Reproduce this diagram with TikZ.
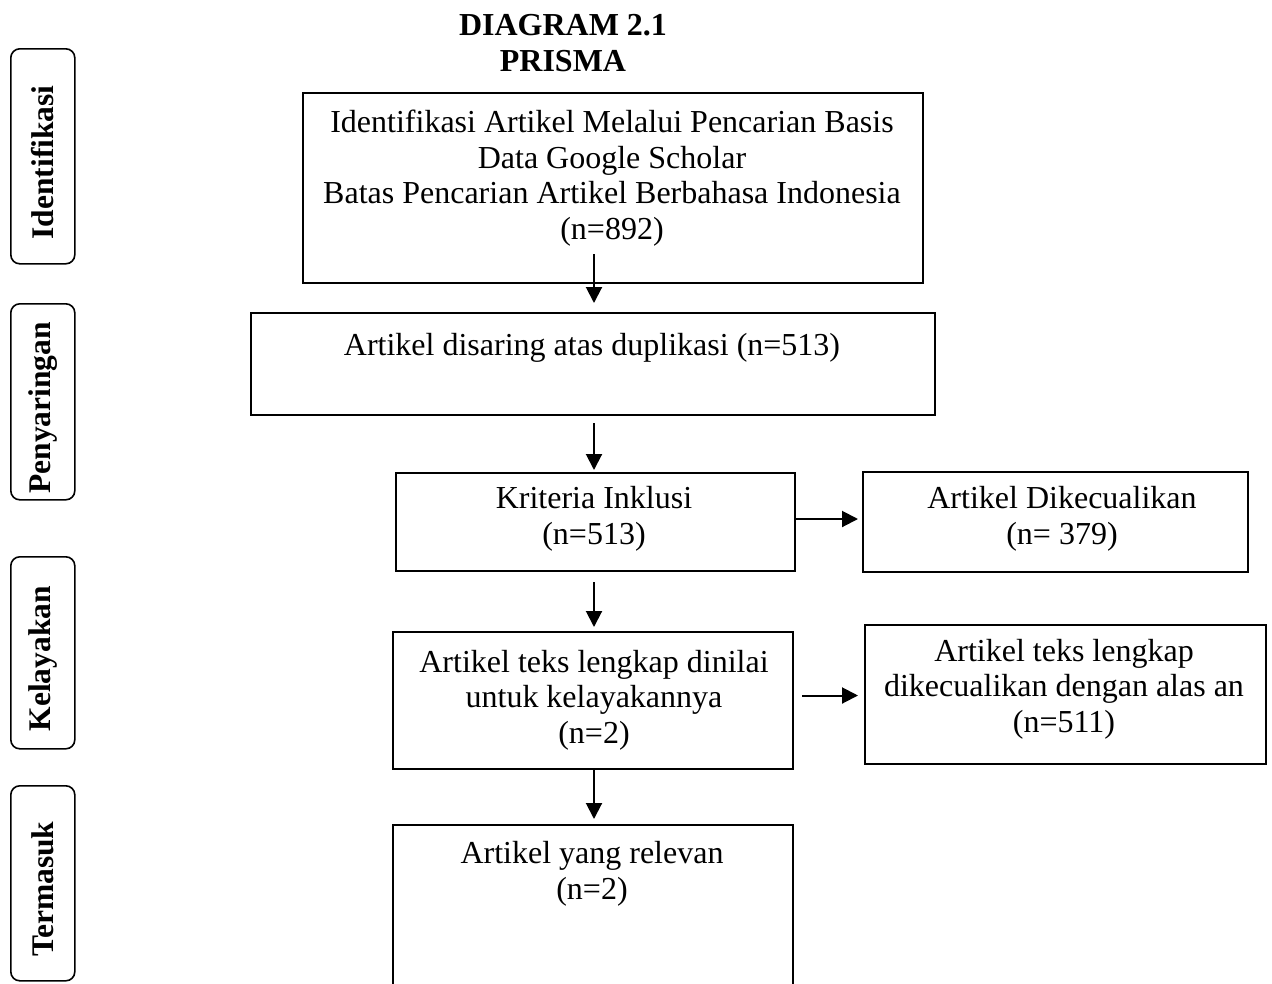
\documentclass[tikz,border=0pt]{standalone}
\usepackage{fontspec}
\setmainfont{Liberation Serif}
\usetikzlibrary{arrows.meta,calc}
\begin{document}
\begin{tikzpicture}[x=1pt,y=-1pt,
  box/.style={draw,line width=2pt,rectangle,inner sep=0pt,anchor=north west},
  side/.style={draw,line width=1.6pt,rounded corners=9pt,inner sep=0pt,anchor=north west},
  txt/.style={align=center,inner sep=0pt,font=\fontsize{32}{35.5}\selectfont},
  stxt/.style={inner sep=0pt,rotate=90,yshift=0pt,font=\fontsize{31.5}{34}\selectfont\bfseries},
  arr/.style={line width=2pt,-{Triangle[length=16pt,width=16pt]}}]
\useasboundingbox (0,0) rectangle (1272,983);
% title
\node[inner sep=0pt,align=center,font=\fontsize{32}{36}\selectfont\bfseries] (title) at (563,43) {DIAGRAM 2.1\\PRISMA};
% side labels
\node[side,minimum width=64pt,minimum height=215pt] (s1) at (10,48) {};
\node[stxt] (st1) at ($(s1.center)+(0,6)$) {Identifikasi};
\node[side,minimum width=64pt,minimum height=196pt] (s2) at (10,303) {};
\node[stxt] (st2) at ($(s2.center)+(0,6)$) {Penyaringan};
\node[side,minimum width=64pt,minimum height=192pt] (s3) at (10,556) {};
\node[stxt] (st3) at ($(s3.center)+(0,6)$) {Kelayakan};
\node[side,minimum width=64pt,minimum height=195pt] (s4) at (10,785) {};
\node[stxt] (st4) at ($(s4.center)+(0,6)$) {Termasuk};
% boxes
\coordinate (ax) at (594,0);
\node[box,minimum width=620pt,minimum height=190pt] (b1) at (302,92) {};
\node[txt] (t1) at (612,178) {Identifikasi Artikel Melalui Pencarian Basis\\Data Google Scholar\\Batas Pencarian Artikel Berbahasa Indonesia\\(n=892)};
\node[box,minimum width=684pt,minimum height=102pt] (b2) at (250,312) {};
\node[txt] (t2) at (592,348) {Artikel disaring atas duplikasi (n=513)};
\node[box,minimum width=399pt,minimum height=98pt] (b3) at (395,472) {};
\node[txt] (t3) at (594,519) {Kriteria Inklusi\\(n=513)};
\node[box,minimum width=385pt,minimum height=100pt] (b4) at (862,471) {};
\node[txt] (t4) at (1062,519) {Artikel Dikecualikan\\(n= 379)};
\node[box,minimum width=400pt,minimum height=137pt] (b5) at (392,631) {};
\node[txt] (t5) at (594,700) {Artikel teks lengkap dinilai\\untuk kelayakannya\\(n=2)};
\node[box,minimum width=401pt,minimum height=139pt] (b6) at (864,624) {};
\node[txt] (t6) at (1064,689) {Artikel teks lengkap\\dikecualikan dengan alas an\\(n=511)};
\node[box,minimum width=400pt,minimum height=200pt] (b7) at (392,824) {};
\node[txt] (t7) at (592,874) {Artikel yang relevan\\(n=2)};
% arrows
\draw[arr] ($(b1.south -| ax)+(0,-30)$) -- ($(b2.north -| ax)+(0,-9)$);
\draw[arr] ($(b2.south -| ax)+(0,7)$) -- ($(b3.north -| ax)+(0,-2)$);
\draw[arr] (b3.east |- t3) -- ($(b4.west |- t3)+(-4,0)$);
\draw[arr] ($(b3.south -| ax)+(0,10)$) -- ($(b5.north -| ax)+(0,-4)$);
\draw[arr] ($(b5.east |- b6.center)+(8,1)$) -- ($(b6.west |- b6.center)+(-6,1)$);
\draw[arr] (b5.south -| ax) -- ($(b7.north -| ax)+(0,-5)$);
\end{tikzpicture}
\end{document}
